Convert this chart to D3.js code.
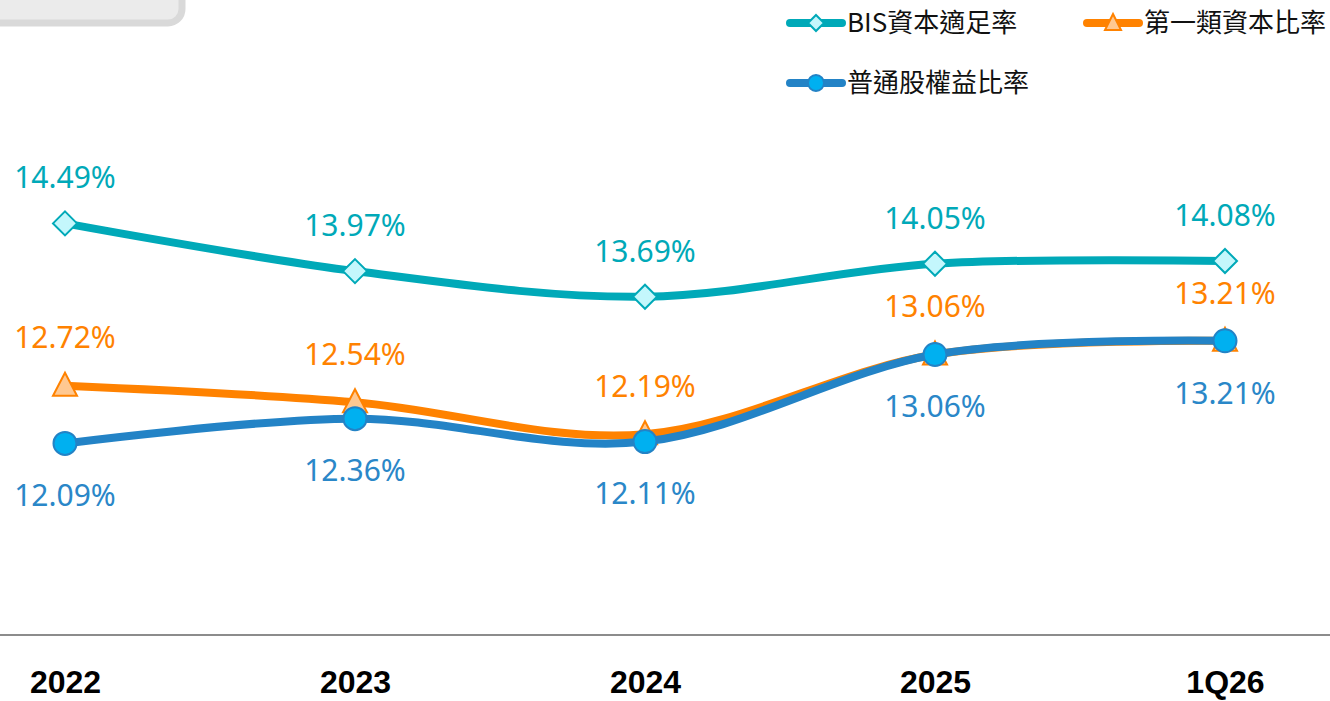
<!DOCTYPE html>
<html>
<head>
<meta charset="utf-8">
<script src="https://cdn.jsdelivr.net/npm/d3@7"></script>
<style>
html,body{margin:0;padding:0;background:#fff;}
svg{display:block;}
text{font-family:"Noto Sans CJK TC","Noto Sans",sans-serif;}
</style>
</head>
<body>
<svg id="chart" width="1330" height="701"></svg>
<script>
const categories = ["2022", "2023", "2024", "2025", "1Q26"];
const seriesNames = ["BIS資本適足率", "第一類資本比率", "普通股權益比率"];
const bisValues = [14.49, 13.97, 13.69, 14.05, 14.08];
const tier1Values = [12.72, 12.54, 12.19, 13.06, 13.21];
const commonValues = [12.09, 12.36, 12.11, 13.06, 13.21];
const yDomain = [10, 16];

const W = 1330, H = 701;
const svg = d3.select("#chart");

// decorative gray box in the top-left corner
svg.append("rect").attr("x", -30).attr("y", -30).attr("width", 212).attr("height", 53)
  .attr("rx", 14).attr("fill", "#ebebeb").attr("stroke", "#d9d9d9").attr("stroke-width", 7);

const x = d3.scalePoint().domain(categories).range([65, 1225]);
const y = d3.scaleLinear().domain(yDomain).range([635, 85]);

const series = [
  {name: seriesNames[0], values: bisValues, line: "#00a9b8", fill: "#c4f7fc", stroke: "#00a9b8", shape: "diamond", labelColor: "#00a9b8", labelDy: -46},
  {name: seriesNames[1], values: tier1Values, line: "#ff8200", fill: "#ffc891", stroke: "#ff8200", shape: "triangle", labelColor: "#ff8200", labelDy: -48},
  {name: seriesNames[2], values: commonValues, line: "#2383c6", fill: "#00b0f0", stroke: "#2383c6", shape: "circle", labelColor: "#2a87c8", labelDy: 52}
];

// x axis
const xAxis = d3.axisBottom(x).tickSize(0).tickPadding(0);
const gx = svg.append("g").attr("transform", "translate(0,635)").call(xAxis);
gx.select(".domain").remove();
svg.append("line").attr("x1", 0).attr("x2", W).attr("y1", 635).attr("y2", 635)
  .attr("stroke", "#8c8c8c").attr("stroke-width", 2);
gx.selectAll(".tick text")
  .attr("y", 58).attr("dy", "0")
  .attr("font-size", 32).attr("font-weight", "bold").attr("fill", "#000")
  .style("font-family", "'Liberation Sans', Arial, sans-serif");

function marker(g, shape, cx, cy, fill, stroke) {
  if (shape === "diamond") {
    const s = 12;
    g.append("path").attr("d", `M${cx},${cy - s}L${cx + s},${cy}L${cx},${cy + s}L${cx - s},${cy}Z`)
      .attr("fill", fill).attr("stroke", stroke).attr("stroke-width", 2);
  } else if (shape === "triangle") {
    g.append("path").attr("d", `M${cx},${cy - 13}L${cx + 12},${cy + 10}L${cx - 12},${cy + 10}Z`)
      .attr("fill", fill).attr("stroke", stroke).attr("stroke-width", 2);
  } else {
    g.append("circle").attr("cx", cx).attr("cy", cy).attr("r", 11.5)
      .attr("fill", fill).attr("stroke", stroke).attr("stroke-width", 2);
  }
}

const lineGen = d3.line().curve(d3.curveCardinal.tension(0)).x(d => x(d.c)).y(d => y(d.v));

series.forEach(s => {
  const data = categories.map((c, i) => ({c, v: s.values[i]}));
  const g = svg.append("g");
  g.append("path").datum(data).attr("d", lineGen)
    .attr("fill", "none").attr("stroke", s.line).attr("stroke-width", 8).attr("stroke-linecap", "round");
  data.forEach(d => marker(g, s.shape, x(d.c), y(d.v), s.fill, s.stroke));
});

// labels
series.forEach(s => {
  categories.forEach((c, i) => {
    svg.append("text")
      .attr("x", x(c)).attr("y", y(s.values[i]) + s.labelDy)
      .attr("dy", "0.36em").attr("text-anchor", "middle")
      .attr("font-size", 30).attr("fill", s.labelColor)
      .style("font-family", "'Noto Sans', 'Open Sans', sans-serif")
      .text(s.values[i].toFixed(2) + "%");
  });
});

// legend
const legendItems = [
  {s: series[0], x0: 786, y0: 23},
  {s: series[1], x0: 1083, y0: 23},
  {s: series[2], x0: 786, y0: 83}
];
legendItems.forEach(it => {
  const g = svg.append("g");
  g.append("line").attr("x1", it.x0 + 4).attr("x2", it.x0 + 56).attr("y1", it.y0).attr("y2", it.y0)
    .attr("stroke", it.s.line).attr("stroke-width", 8).attr("stroke-linecap", "round");
  const cx = it.x0 + 30;
  if (it.s.shape === "diamond") {
    g.append("path").attr("d", `M${cx},${it.y0 - 8}L${cx + 8},${it.y0}L${cx},${it.y0 + 8}L${cx - 8},${it.y0}Z`)
      .attr("fill", it.s.fill).attr("stroke", it.s.stroke).attr("stroke-width", 2);
  } else if (it.s.shape === "triangle") {
    g.append("path").attr("d", `M${cx},${it.y0 - 9}L${cx + 8},${it.y0 + 7}L${cx - 8},${it.y0 + 7}Z`)
      .attr("fill", it.s.fill).attr("stroke", it.s.stroke).attr("stroke-width", 2);
  } else {
    g.append("circle").attr("cx", cx).attr("cy", it.y0).attr("r", 8)
      .attr("fill", it.s.fill).attr("stroke", it.s.stroke).attr("stroke-width", 2);
  }
  g.append("text").attr("x", it.x0 + 61).attr("y", it.y0).attr("dy", "0.36em")
    .attr("font-size", 26).attr("fill", "#111").text(it.s.name);
});
</script>
</body>
</html>
